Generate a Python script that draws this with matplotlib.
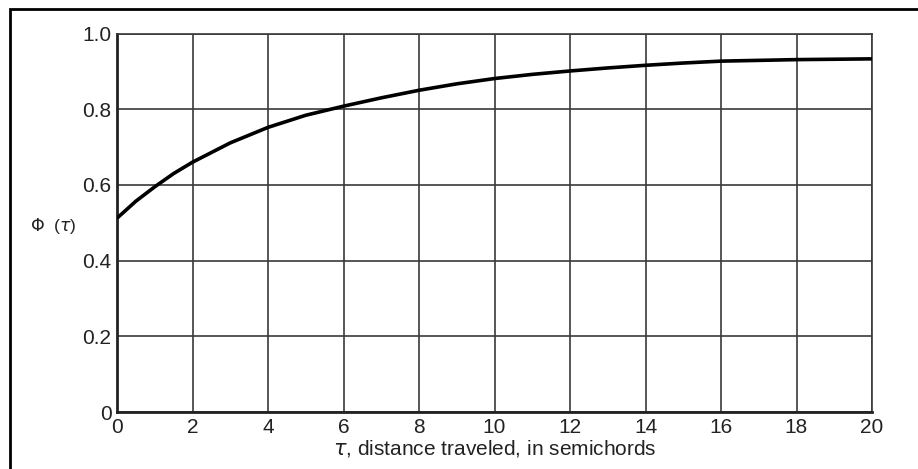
import matplotlib.pyplot as plt
from matplotlib.patches import Rectangle

# values
tau = [0, 0.5, 1, 1.5, 2, 3, 4, 5, 6, 7, 8, 9, 10, 11, 12, 13, 14, 15, 16, 17, 18, 19, 20]
phi = [0.512, 0.557, 0.595, 0.630, 0.660, 0.711, 0.752, 0.784, 0.808, 0.830, 0.850, 0.867,
       0.881, 0.892, 0.901, 0.909, 0.916, 0.922, 0.927, 0.929, 0.931, 0.932, 0.933]

x_ticks = [0, 2, 4, 6, 8, 10, 12, 14, 16, 18, 20]
y_ticks = [0, 0.2, 0.4, 0.6, 0.8, 1.0]
y_tick_labels = ['0', '0.2', '0.4', '0.6', '0.8', '1.0']

plt.rcParams['font.family'] = ['Liberation Sans', 'DejaVu Sans']

fig = plt.figure(figsize=(9.18, 4.69), dpi=100)
ax = fig.add_axes([117/918, 1 - 412/469, (872 - 117)/918, (412 - 33.5)/469])

ax.plot(tau, phi, color='black', lw=2.6, solid_capstyle='butt', zorder=3)

ax.set_xlim(0, 20)
ax.set_ylim(0, 1.0)
ax.set_xticks(x_ticks)
ax.set_yticks(y_ticks)
ax.set_yticklabels(y_tick_labels)
ax.tick_params(length=0, labelsize=15, pad=4, colors='#222222')
ax.grid(True, color='#3a3a3a', lw=1.2)
ax.set_axisbelow(True)

for side in ['top', 'right']:
    ax.spines[side].set_color('#3a3a3a')
    ax.spines[side].set_linewidth(1.2)
for side in ['left', 'bottom']:
    ax.spines[side].set_color('#222222')
    ax.spines[side].set_linewidth(2.0)

ax.set_xlabel(r'$\tau$, distance traveled, in semichords', fontsize=15, labelpad=1, color='#222222')
fig.text(53/918, 1 - 226/469, r'$\Phi$  ($\tau$)', fontsize=12.5, ha='center', va='center', color='#222222')

# frame around the whole picture (only top and left edges are inside the image)
fig.patches.append(Rectangle((10/918, -0.05), 1.1, 1 - 9/469 + 0.05, transform=fig.transFigure,
                             fill=False, edgecolor='black', lw=2.0))

fig.savefig('out.png', dpi=100)
